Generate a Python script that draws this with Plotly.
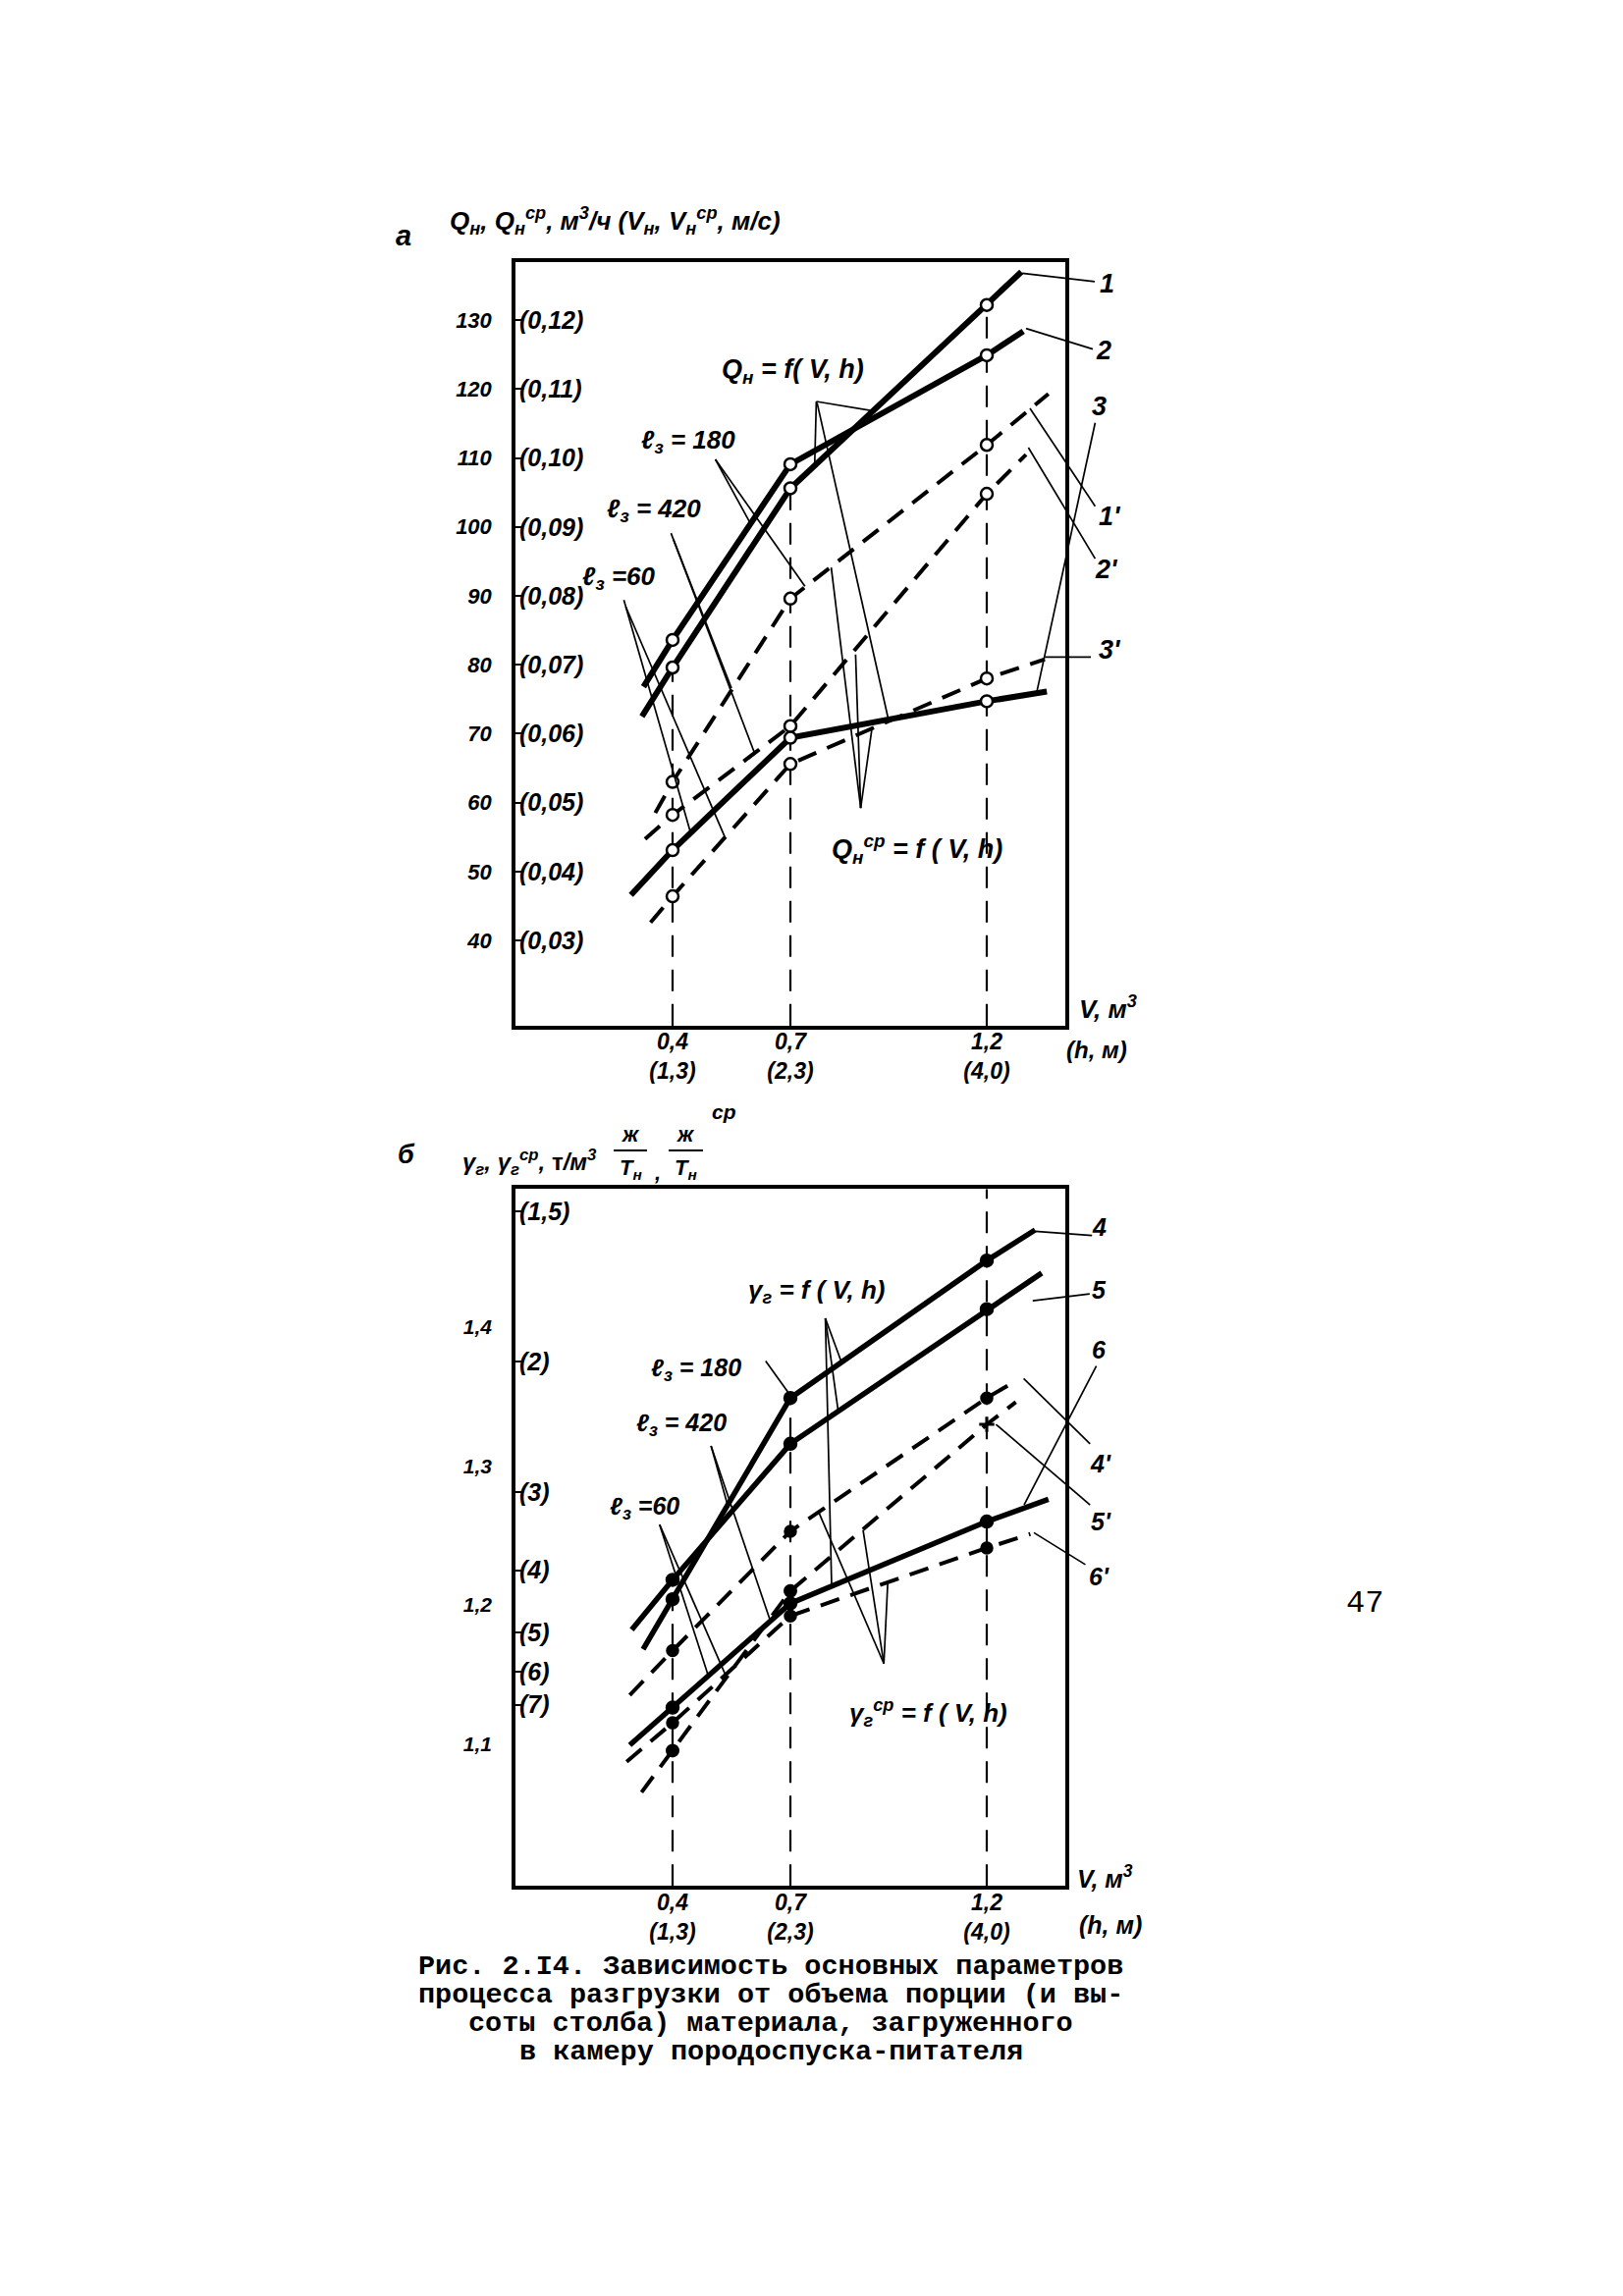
import plotly.graph_objects as go

# ======================= DATA =======================
# common x positions of measured points (V, м3) and the tick texts
V_PTS = [0.4, 0.7, 1.2]
X_TICK_TXT = ["0,4<br>(1,3)", "0,7<br>(2,3)", "1,2<br>(4,0)"]

# ---- chart а : Q_н, Q_н^ср (м3/ч) ----
Q_TICKS = [40, 50, 60, 70, 80, 90, 100, 110, 120, 130]
Q_TICK_TXT = ["40", "50", "60", "70", "80", "90", "100", "110", "120", "130"]
VEL_TICK_TXT = ["(0,03)", "(0,04)", "(0,05)", "(0,06)", "(0,07)",
                "(0,08)", "(0,09)", "(0,10)", "(0,11)", "(0,12)"]

A1_V = [0.322, 0.4, 0.7, 1.2, 1.288]
A1_Q = [72.5, 79.6, 105.6, 132.2, 137.0]
A2_V = [0.326, 0.4, 0.7, 1.2, 1.293]
A2_Q = [76.8, 83.6, 109.1, 124.9, 128.4]
A3_V = [0.294, 0.4, 0.7, 1.2, 1.353]
A3_Q = [46.6, 53.1, 69.4, 74.7, 76.1]
A1P_V = [0.356, 0.4, 0.7, 1.2, 1.357]
A1P_Q = [58.5, 63.0, 89.6, 111.9, 119.3]
A2P_V = [0.330, 0.4, 0.7, 1.2, 1.300]
A2P_Q = [54.7, 58.2, 71.1, 104.8, 110.5]
A3P_V = [0.344, 0.4, 0.7, 1.2, 1.348]
A3P_Q = [42.6, 46.4, 65.6, 78.0, 80.8]

# ---- chart б : γ_г, γ_г^ср (т/м3) ----
G_TICKS = [1.1, 1.2, 1.3, 1.4]
G_TICK_TXT = ["1,1", "1,2", "1,3", "1,4"]
ZH_TICKS = [1.4835, 1.375, 1.281, 1.225, 1.180, 1.152, 1.128]
ZH_TICK_TXT = ["(1,5)", "(2)", "(3)", "(4)", "(5)", "(6)", "(7)"]

B4_V = [0.325, 0.4, 0.7, 1.2, 1.323]
B4_G = [1.168, 1.204, 1.349, 1.448, 1.470]
B5_V = [0.296, 0.4, 0.7, 1.2, 1.340]
B5_G = [1.182, 1.218, 1.316, 1.413, 1.439]
B6_V = [0.291, 0.4, 0.7, 1.2, 1.357]
B6_G = [1.099, 1.126, 1.201, 1.260, 1.276]
B4P_V = [0.291, 0.4, 0.7, 1.2, 1.278]
B4P_G = [1.135, 1.167, 1.253, 1.349, 1.362]
B5P_V = [0.321, 0.4, 0.7, 1.2, 1.274]
B5P_G = [1.065, 1.095, 1.210, 1.330, 1.346]
B6P_V = [0.283, 0.4, 0.7, 1.2, 1.311]
B6P_G = [1.087, 1.115, 1.192, 1.241, 1.251]

# ======================= LAYOUT CONSTANTS =======================
W, H = 1653, 2339
HAND = "Liberation Sans, Arial, sans-serif"
MONO = "Liberation Mono, DejaVu Sans Mono, monospace"
XR = [0.0, 1.4]
YA = [27.65, 138.43]
YB = [0.9975, 1.4995]
X_DOM = [517 / W, 1077 / W]
YA_DOM = [1 - 1036.7 / H, 1 - 259 / H]
YB_DOM = [1 - 1913.3 / H, 1 - 1203.3 / H]

fig = go.Figure()


def curve(V, Y, xa, ya, dash, width, mcolor, msize, symbols="circle", mlw=2.5):
    fig.add_trace(go.Scatter(x=V, y=Y, mode="lines", xaxis=xa, yaxis=ya,
                             line=dict(color="black", width=width, dash=dash),
                             hoverinfo="skip", showlegend=False))
    fig.add_trace(go.Scatter(x=V[1:4], y=Y[1:4], mode="markers", xaxis=xa, yaxis=ya,
                             marker=dict(symbol=symbols, size=msize, color=mcolor,
                                         line=dict(color="black", width=mlw)),
                             hoverinfo="skip", showlegend=False))


def drops(tops, xa, ya, ymin):
    for v, t in zip(V_PTS, tops):
        fig.add_trace(go.Scatter(x=[v, v], y=[ymin, t], mode="lines", xaxis=xa, yaxis=ya,
                                 line=dict(color="black", width=2.2, dash="22px,13px"),
                                 hoverinfo="skip", showlegend=False))


DASH = "20px,12px"
# chart а
drops(A1_Q[1:4], "x", "y", YA[0])
curve(A3P_V, A3P_Q, "x", "y", DASH, 4, "white", 12)
curve(A2P_V, A2P_Q, "x", "y", DASH, 4, "white", 12)
curve(A1P_V, A1P_Q, "x", "y", DASH, 4, "white", 12)
curve(A3_V, A3_Q, "x", "y", "solid", 6, "white", 12)
curve(A2_V, A2_Q, "x", "y", "solid", 6, "white", 12)
curve(A1_V, A1_Q, "x", "y", "solid", 6, "white", 12)
# chart б
drops([B4_G[1], B4_G[2], YB[1]], "x2", "y3", YB[0])
curve(B6P_V, B6P_G, "x2", "y3", DASH, 4, "black", 11)
curve(B5P_V, B5P_G, "x2", "y3", DASH, 4, "black", 11,
      symbols=["circle", "circle", "cross-thin"], mlw=3)
curve(B4P_V, B4P_G, "x2", "y3", DASH, 4, "black", 11)
curve(B6_V, B6_G, "x2", "y3", "solid", 5.5, "black", 12)
curve(B5_V, B5_G, "x2", "y3", "solid", 5.5, "black", 12)
curve(B4_V, B4_G, "x2", "y3", "solid", 5.5, "black", 12)

# invisible carriers so that the secondary (inner) scales are drawn
fig.add_trace(go.Scatter(x=[None], y=[None], xaxis="x", yaxis="y2",
                         hoverinfo="skip", showlegend=False))
fig.add_trace(go.Scatter(x=[None], y=[None], xaxis="x2", yaxis="y4",
                         hoverinfo="skip", showlegend=False))


# ======================= helpers (data -> paper) =======================
def to_paper(chart, xv, yv):
    yr, yd = (YA, YA_DOM) if chart == "a" else (YB, YB_DOM)
    px = X_DOM[0] + (xv - XR[0]) / (XR[1] - XR[0]) * (X_DOM[1] - X_DOM[0])
    py = yd[0] + (yv - yr[0]) / (yr[1] - yr[0]) * (yd[1] - yd[0])
    return px, py


shapes = []


def seg(p0, p1, chart, width=1.7):
    x0, y0 = to_paper(chart, *p0)
    x1, y1 = to_paper(chart, *p1)
    shapes.append(dict(type="line", xref="paper", yref="paper",
                       x0=x0, y0=y0, x1=x1, y1=y1,
                       line=dict(color="black", width=width)))


LEAD_A = [
    ((0.766, 118.2), (0.915, 116.8)), ((0.766, 118.2), (0.762, 109.3)),
    ((0.768, 118.0), (0.949, 72.2)),
    ((0.509, 109.8), (0.600, 100.3)), ((0.509, 109.8), (0.737, 91.4)),
    ((0.396, 99.1), (0.608, 67.3)), ((0.402, 98.2), (0.550, 76.6)),
    ((0.276, 89.4), (0.446, 55.6)), ((0.281, 88.4), (0.533, 55.0)),
    ((0.879, 59.2), (0.804, 94.1)), ((0.879, 59.2), (0.866, 81.5)),
    ((0.879, 59.2), (0.908, 70.9)),
    ((1.290, 136.8), (1.475, 135.6)), ((1.300, 128.8), (1.470, 125.8)),
    ((1.328, 76.2), (1.476, 115.1)), ((1.310, 117.2), (1.476, 103.0)),
    ((1.306, 111.5), (1.476, 95.4)), ((1.348, 81.1), (1.465, 81.1)),
]
LEAD_B = [
    ((0.789, 1.4064), (0.831, 1.374)), ((0.789, 1.4064), (0.822, 1.339)),
    ((0.789, 1.4064), (0.805, 1.2137)),
    ((0.637, 1.3757), (0.702, 1.350)),
    ((0.498, 1.3144), (0.542, 1.270)), ((0.498, 1.3144), (0.647, 1.190)),
    ((0.367, 1.2578), (0.492, 1.148)), ((0.367, 1.2578), (0.534, 1.150)),
    ((0.938, 1.1577), (0.772, 1.2668)), ((0.938, 1.1577), (0.885, 1.254)),
    ((0.938, 1.1577), (0.948, 1.2165)),
    ((1.323, 1.469), (1.468, 1.466)), ((1.317, 1.419), (1.462, 1.424)),
    ((1.295, 1.272), (1.479, 1.372)), ((1.294, 1.363), (1.463, 1.316)),
    ((1.2235, 1.330), (1.463, 1.272)), ((1.320, 1.252), (1.451, 1.229)),
]
for p0, p1 in LEAD_A:
    seg(p0, p1, "a")
for p0, p1 in LEAD_B:
    seg(p0, p1, "b")

# fraction bars in chart б title
for x0, x1 in [(617, 651), (673, 708)]:
    shapes.append(dict(type="line", xref="paper", yref="paper",
                       x0=x0 / W, x1=x1 / W, y0=1 - 1164 / H, y1=1 - 1164 / H,
                       line=dict(color="black", width=2.2)))

# ======================= TEXT =======================
ann = []
BOLD = "bold"


def ptxt(px, py, s, size, xanchor="center", family=HAND, italic=True, weight=BOLD):
    ann.append(dict(x=px / W, y=1 - py / H, xref="paper", yref="paper", text=s,
                    showarrow=False, xanchor=xanchor, yanchor="middle",
                    font=dict(family=family, size=size, color="black", weight=weight,
                              style="italic" if italic else "normal")))


def dtxt(chart, xv, yv, s, size):
    px, py = to_paper(chart, xv, yv)
    ann.append(dict(x=px, y=py, xref="paper", yref="paper", text=s, showarrow=False,
                    xanchor="center", yanchor="middle",
                    font=dict(family=HAND, size=size, color="black", style="italic",
                              weight=BOLD)))


# chart а texts
dtxt("a", 0.706, 122.6, "Q<sub>н</sub> = f( V, h)", 27)
dtxt("a", 0.441, 112.4, "ℓ<sub>з</sub> = 180", 26)
dtxt("a", 0.352, 102.4, "ℓ<sub>з</sub> = 420", 26)
dtxt("a", 0.264, 92.7, "ℓ<sub>з</sub> =60", 26)
dtxt("a", 1.022, 53.2, "Q<sub>н</sub><sup>ср</sup> = f ( V, h)", 27)
for lbl, xv, yv in [("1", 1.506, 135.3), ("2", 1.498, 125.6), ("3", 1.486, 117.5),
                    ("1'", 1.513, 101.5), ("2'", 1.506, 93.9), ("3'", 1.513, 82.2)]:
    dtxt("a", xv, yv, lbl, 27)
ptxt(1120, 1018, "V, м<sup>3</sup>", 26)
ptxt(1109, 1062, "(h, м)", 24)
ptxt(403, 232, "а", 29)
ptxt(448, 217, "Q<sub>н</sub>, Q<sub>н</sub><sup>ср</sup>, м<sup>3</sup>/ч (V<sub>н</sub>, "
     "V<sub>н</sub><sup>ср</sup>, м/с)", 26, xanchor="left")

# chart б texts
dtxt("b", 0.768, 1.4255, "γ<sub>г</sub> = f ( V, h)", 26)
dtxt("b", 0.459, 1.3696, "ℓ<sub>з</sub> = 180", 25)
dtxt("b", 0.422, 1.330, "ℓ<sub>з</sub> = 420", 25)
dtxt("b", 0.329, 1.270, "ℓ<sub>з</sub> =60", 25)
dtxt("b", 1.052, 1.122, "γ<sub>г</sub><sup>ср</sup> = f ( V, h)", 26)
for lbl, xv, yv in [("4", 1.487, 1.472), ("5", 1.487, 1.427), ("6", 1.487, 1.384),
                    ("4'", 1.490, 1.302), ("5'", 1.490, 1.260), ("6'", 1.487, 1.2207)]:
    dtxt("b", xv, yv, lbl, 25)
ptxt(1117, 1904, "V, м<sup>3</sup>", 25)
ptxt(1123, 1953, "(h, м)", 25)
ptxt(406, 1168, "б", 27)
ptxt(461, 1176, "γ<sub>г</sub>, γ<sub>г</sub><sup>ср</sup>, "
     "<span style='font-style:normal'>т</span>/м<sup>3</sup>", 24, xanchor="left")
ptxt(634, 1147, "ж", 22)
ptxt(634, 1183, "Т<sub>н</sub>", 22)
ptxt(661, 1186, ",", 22)
ptxt(690, 1147, "ж", 22)
ptxt(690, 1183, "Т<sub>н</sub>", 22)
ptxt(729, 1124, "ср", 21)

# caption & page number
CAPTION = ["Рис. 2.I4. Зависимость основных параметров",
           "процесса разгрузки от объема порции (и вы-",
           "соты столба) материала, загруженного",
           "в камеру породоспуска-питателя"]
for i, line in enumerate(CAPTION):
    ptxt(777, 1995 + i * 29.2, line, 28.5, family=MONO, italic=False, weight="bold")
ptxt(1382, 1626, "47", 32, family=MONO, italic=False, weight="normal")

# ======================= AXES =======================
tf = lambda s: dict(family=HAND, size=s, color="black", style="italic", weight=BOLD)
common_x = dict(range=XR, domain=X_DOM, showgrid=False, zeroline=False,
                showline=True, mirror=True, linecolor="black", linewidth=3.5,
                tickvals=V_PTS, ticktext=X_TICK_TXT, ticks="inside", ticklen=8,
                tickwidth=2, tickcolor="black", tickfont=tf(23),
                ticklabelstandoff=-7)
fig.update_layout(
    width=W, height=H, autosize=False,
    margin=dict(l=0, r=0, t=0, b=0),
    paper_bgcolor="white", plot_bgcolor="white",
    showlegend=False,
    xaxis=dict(anchor="y", **common_x),
    xaxis2=dict(anchor="y3", **common_x),
    yaxis=dict(range=YA, domain=YA_DOM, anchor="x", showgrid=False, zeroline=False,
               showline=True, mirror=True, linecolor="black", linewidth=3.5,
               tickvals=Q_TICKS, ticktext=Q_TICK_TXT, ticks="",
               ticklabelstandoff=16, tickfont=tf(22)),
    yaxis2=dict(range=YA, domain=YA_DOM, overlaying="y", anchor="x", side="left",
                showgrid=False, zeroline=False, showline=False,
                tickvals=Q_TICKS, ticktext=VEL_TICK_TXT,
                ticks="inside", ticklen=6, tickwidth=2, tickcolor="black",
                ticklabelposition="inside", tickfont=tf(25)),
    yaxis3=dict(range=YB, domain=YB_DOM, anchor="x2", showgrid=False, zeroline=False,
                showline=True, mirror=True, linecolor="black", linewidth=3.5,
                tickvals=G_TICKS, ticktext=G_TICK_TXT, ticks="",
                ticklabelstandoff=16, tickfont=tf(21)),
    yaxis4=dict(range=YB, domain=YB_DOM, overlaying="y3", anchor="x2", side="left",
                showgrid=False, zeroline=False, showline=False,
                tickvals=ZH_TICKS, ticktext=ZH_TICK_TXT,
                ticks="inside", ticklen=6, tickwidth=2, tickcolor="black",
                ticklabelposition="inside", tickfont=tf(25)),
    shapes=shapes,
    annotations=ann,
)

fig.write_html("out.html")
